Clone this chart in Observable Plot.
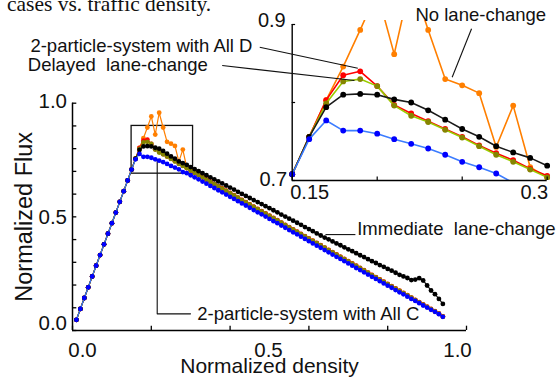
<!DOCTYPE html>
<html><head><meta charset="utf-8">
<script src="https://cdn.jsdelivr.net/npm/d3@7"></script>
<script src="https://cdn.jsdelivr.net/npm/@observablehq/plot@0.6"></script>
<style>
html,body{margin:0;padding:0;background:#fff;}
#wrap{position:relative;width:558px;height:377px;overflow:hidden;background:#fff;}
#wrap svg{position:absolute;left:0;top:0;}
</style></head><body><div id="wrap"></div>
<script>
// ---------- data ----------
const rhoRise = [0.01,0.02,0.03,0.04,0.05,0.06,0.07,0.08,0.09,0.10,0.11,0.12,0.13,0.14];
const fluxRise = [0.047,0.095,0.143,0.190,0.238,0.285,0.332,0.379,0.426,0.472,0.519,0.566,0.613,0.660];
const rhoCong = [0.15,0.16,0.17,0.18,0.19,0.20,0.21,0.22,0.23,0.24,0.25,0.26,0.27,0.28,0.29,0.30,
 0.31,0.32,0.33,0.34,0.35,0.36,0.37,0.38,0.39,0.40,0.41,0.42,0.43,0.44,0.45,0.46,0.47,0.48,0.49,0.50,
 0.51,0.52,0.53,0.54,0.55,0.56,0.57,0.58,0.59,0.60,0.61,0.62,0.63,0.64,0.65,0.66,0.67,0.68,0.69,0.70,
 0.71,0.72,0.73,0.74,0.75,0.76,0.77,0.78,0.79,0.80,0.81,0.82,0.83,0.84,0.85,0.86,0.87,0.88,0.89,0.90,
 0.91,0.92,0.93,0.94];
const noLaneChange = [0.708,0.756,0.803,0.846,0.893,0.942,0.862,0.958,0.893,0.830,0.822,0.812,0.743,0.796,0.717,0.704,
 0.693,0.684,0.673,0.663,0.654,0.643,0.633,0.624,0.613,0.603,0.593,0.583,0.573,0.563,0.553,0.543,0.533,0.523,0.513,0.503,
 0.493,0.483,0.473,0.463,0.453,0.443,0.433,0.423,0.413,0.403,0.393,0.383,0.373,0.363,0.353,0.343,0.333,0.323,0.313,0.303,
 0.293,0.283,0.273,0.263,0.253,0.243,0.233,0.223,0.213,0.203,0.193,0.183,0.173,0.163,0.153,0.143,0.133,0.123,0.113,0.103,
 0.093,0.083,0.073,0.061];
const allD = [0.708,0.756,0.803,0.835,0.840,0.821,0.797,0.786,0.776,0.766,0.756,0.745,0.735,0.726,0.715,0.706,
 0.695,0.685,0.675,0.665,0.655,0.645,0.635,0.625,0.615,0.605,0.595,0.585,0.575,0.565,0.555,0.545,0.535,0.525,0.515,0.505,
 0.495,0.485,0.475,0.465,0.455,0.445,0.435,0.425,0.415,0.405,0.395,0.385,0.375,0.365,0.355,0.345,0.335,0.325,0.315,0.305,
 0.295,0.285,0.275,0.265,0.255,0.245,0.235,0.225,0.215,0.205,0.195,0.185,0.175,0.165,0.155,0.145,0.135,0.125,0.115,0.105,
 0.095,0.085,0.075,0.062];
const delayed = [0.708,0.756,0.799,0.827,0.830,0.821,0.796,0.783,0.775,0.765,0.755,0.744,0.733,0.724,0.714,0.704,
 0.694,0.684,0.674,0.664,0.654,0.644,0.634,0.624,0.614,0.604,0.594,0.584,0.574,0.564,0.554,0.544,0.534,0.524,0.514,0.504,
 0.494,0.484,0.474,0.464,0.454,0.444,0.434,0.424,0.414,0.404,0.394,0.384,0.374,0.364,0.354,0.344,0.334,0.324,0.314,0.304,
 0.294,0.284,0.274,0.264,0.254,0.244,0.234,0.224,0.214,0.204,0.194,0.184,0.174,0.164,0.154,0.144,0.134,0.124,0.114,0.104,
 0.094,0.084,0.074,0.061];
const immediate = [0.708,0.756,0.794,0.810,0.811,0.810,0.804,0.800,0.790,0.778,0.766,0.756,0.744,0.736,0.729,0.719,
 0.710,0.701,0.692,0.683,0.674,0.665,0.656,0.647,0.638,0.629,0.620,0.610,0.601,0.592,0.583,0.574,0.565,0.556,0.547,0.538,
 0.529,0.520,0.510,0.501,0.492,0.483,0.474,0.465,0.455,0.446,0.437,0.427,0.418,0.409,0.401,0.392,0.383,0.375,0.366,0.357,
 0.349,0.340,0.331,0.323,0.314,0.305,0.297,0.288,0.280,0.271,0.263,0.254,0.245,0.238,0.231,0.222,0.224,0.230,0.220,0.198,
 0.176,0.160,0.139,0.117];
const allC = [0.708,0.753,0.777,0.764,0.764,0.760,0.753,0.747,0.741,0.733,0.724,0.717,0.709,0.697,0.692,0.683,
 0.674,0.665,0.655,0.646,0.636,0.627,0.617,0.608,0.598,0.588,0.579,0.569,0.559,0.550,0.540,0.530,0.520,0.511,0.501,0.491,
 0.481,0.472,0.462,0.452,0.442,0.432,0.423,0.413,0.403,0.393,0.383,0.373,0.364,0.354,0.344,0.334,0.324,0.315,0.305,0.295,
 0.285,0.275,0.266,0.256,0.246,0.236,0.227,0.217,0.207,0.197,0.188,0.178,0.168,0.159,0.149,0.139,0.130,0.120,0.110,0.101,
 0.091,0.082,0.072,0.060];

const mainXTicks = [0,0.2,0.4,0.6,0.8,1.0];
const mainYTicks = [0,0.1,0.2,0.3,0.4,0.5,0.6,0.7,0.8,0.9,1.0];
const mainXLabels = [{v:0,t:"0.0"},{v:0.5,t:"0.5"},{v:1,t:"1.0"}];
const mainYLabels = [{v:0,t:"0.0"},{v:0.5,t:"0.5"},{v:1,t:"1.0"}];
const insetXTicks = [0.15,0.2,0.25,0.3];
const insetYTicks = [0.7,0.8,0.9];
const insetXLabels = [{v:0.15,t:"0.15"},{v:0.3,t:"0.3"}];
const insetYLabels = [{v:0.9,t:"0.9"},{v:0.7,t:"0.7"}];
const zoomBox = [{x1:0.15,x2:0.306,y1:0.69,y2:0.90}];

const seriesNames = ["No lane-change","2-particle-system with All D","Delayed  lane-change","Immediate  lane-change","2-particle-system with All C"];
const seriesValues = [noLaneChange, allD, delayed, immediate, allC];
const lineColors = ["#ff7f00","#ff0000","#99cc00","#1a1a1a","#3c7cff"];
const dotColors  = ["#ff7f00","#ff0000","#858500","#000000","#0000ff"];

// annotations (data coordinates of the plot they belong to)
const insetNotes = [
  {text:"2-particle-system with All D", x:-0.004, y:0.8645, x1:0.1309, y1:0.8709, x2:0.1886, y2:0.8440},
  {text:"Delayed\u00a0 lane-change", x:-0.0055, y:0.8401, x1:0.1088, y1:0.8474, x2:0.1866, y2:0.8282},
  {text:"No lane-change", x:0.2225, y:0.9042, x1:0.2555, y1:0.8945, x2:0.2441, y2:0.8324}
];
const immediateNote = [{text:"Immediate\u00a0 lane-change", x:0.7225, y:0.422, x1:0.642, x2:0.718}];
const allCLeader = [{rho:0.215,flux:0.752},{rho:0.215,flux:0.0733},{rho:0.2995,flux:0.0733}];
const allCNote = [{text:"2-particle-system with All C", x:0.3165, y:0.0733}];

// ---------- build ----------
const W = 558, H = 377;
const FONT = "'Liberation Sans', Arial, Helvetica, sans-serif";
const series = seriesNames.map((name, k) => ({
  name,
  line: lineColors[k],
  dot: dotColors[k],
  rows: rhoRise.map((r, i) => ({rho: r, flux: fluxRise[i]}))
        .concat(rhoCong.map((r, i) => ({rho: r, flux: seriesValues[k][i]})))
}));

// main plot geometry
const mL = 72, mR = 92, mT = 102.7, mB = 47;
const fW = W - mL - mR, fH = H - mT - mB;

const mainMarks = [
  Plot.rect(zoomBox, {x1:"x1", x2:"x2", y1:"y1", y2:"y2", fill:"none", stroke:"#111", strokeWidth:1.3}),
  Plot.line(allCLeader, {x:"rho", y:"flux", stroke:"#111", strokeWidth:1.1}),
];
series.forEach(s => {
  mainMarks.push(Plot.line(s.rows, {x:"rho", y:"flux", stroke:s.line, strokeWidth:1.2}));
  mainMarks.push(Plot.dot(s.rows, {x:"rho", y:"flux", r:2.4, fill:s.dot}));
});
mainMarks.push(
  Plot.ruleX([0], {stroke:"#000", strokeWidth:1.5}),
  Plot.ruleY([0], {stroke:"#000", strokeWidth:1.5}),
  Plot.tickX(mainXTicks, {x:d=>d, insetTop:fH-4.3, stroke:"#000", strokeWidth:1.3}),
  Plot.tickY(mainYTicks, {y:d=>d, insetRight:fW-4.3, stroke:"#000", strokeWidth:1.3}),
  Plot.link(immediateNote, {x1:"x1", x2:"x2", y1:"y", y2:"y", stroke:"#111", strokeWidth:1.1}),
  Plot.text(immediateNote, {x:"x", y:"y", text:"text", textAnchor:"start", lineAnchor:"bottom", fontSize:18.5, fill:"#111"}),
  Plot.text(allCNote, {x:"x", y:"y", text:"text", textAnchor:"start", lineAnchor:"middle", fontSize:18.5, fill:"#111"})
);
const xdx = [10, -1, -9];
mainXLabels.forEach((L, i) => mainMarks.push(
  Plot.text([L], {x:"v", text:"t", frameAnchor:"bottom", textAnchor:"middle", lineAnchor:"middle", dy:19.5, dx:xdx[i], fontSize:20.5, fill:"#111"})));
const ydy = [-7, 1, -2];
mainYLabels.forEach((L, i) => mainMarks.push(
  Plot.text([L], {y:"v", text:"t", frameAnchor:"left", textAnchor:"end", lineAnchor:"middle", dx:-5.5, dy:ydy[i], fontSize:20.5, fill:"#111"})));
mainMarks.push(
  Plot.text(["Normalized density"], {text:d=>d, frameAnchor:"bottom", textAnchor:"middle", lineAnchor:"bottom", dy:42, fontSize:21, fill:"#111"}),
  Plot.text(["Normalized Flux"], {text:d=>d, frameAnchor:"left", textAnchor:"middle", lineAnchor:"middle", rotate:-90, dx:-48, fontSize:23.5, fill:"#111"})
);

const mainPlot = Plot.plot({
  width: W, height: H,
  marginLeft: mL, marginRight: mR, marginTop: mT, marginBottom: mB,
  x: {domain:[0,1], axis:null},
  y: {domain:[0,1], axis:null},
  style: {fontFamily: FONT, background:"#fff", overflow:"visible"},
  marks: mainMarks
});

// inset geometry: 0.15 -> px 291.7, 0.30 -> 546.7 ; 0.9 -> py 24, 0.7 -> 180
const iL = 288.3, iR = W - 550.1, iT = 20.1, iB = H - 180;
const ifW = W - iL - iR, ifH = H - iT - iB;
const insetMarks = [];
series.forEach(s => {
  const d = s.rows.filter(p => p.rho >= 0.1499 && p.rho <= 0.3001);
  insetMarks.push(Plot.line(d, {x:"rho", y:"flux", stroke:s.line, strokeWidth:1.6, clip:true}));
  insetMarks.push(Plot.dot(d, {x:"rho", y:"flux", r:2.9, fill:s.dot, clip:true}));
});
insetMarks.push(
  Plot.ruleX([0.15], {y1:0.7, y2:0.9, stroke:"#000", strokeWidth:1.4}),
  Plot.ruleY([0.7], {x1:0.15, x2:0.3, stroke:"#000", strokeWidth:1.4}),
  Plot.tickX(insetXTicks, {x:d=>d, insetTop:ifH-3.4, stroke:"#000", strokeWidth:1.2}),
  Plot.tickY(insetYTicks, {y:d=>d, insetLeft:3.4, insetRight:ifW-3.4-3.4, stroke:"#000", strokeWidth:1.2}),
  Plot.link(insetNotes, {x1:"x1", y1:"y1", x2:"x2", y2:"y2", stroke:"#111", strokeWidth:1.1}),
  Plot.text(insetNotes, {x:"x", y:"y", text:"text", textAnchor:"start", lineAnchor:"bottom", fontSize:18.5, fill:"#111"}),
  Plot.text([insetXLabels[0]], {x:"v", y:()=>0.7, text:"t", textAnchor:"start", lineAnchor:"middle", dx:-2, dy:12.5, fontSize:20, fill:"#111"}),
  Plot.text([insetXLabels[1]], {x:"v", y:()=>0.7, text:"t", textAnchor:"end", lineAnchor:"middle", dx:1, dy:12.5, fontSize:20, fill:"#111"}),
  Plot.text([insetYLabels[0]], {x:()=>0.15, y:"v", text:"t", textAnchor:"end", lineAnchor:"middle", dx:-6.5, dy:-4, fontSize:20, fill:"#111"}),
  Plot.text([insetYLabels[1]], {x:()=>0.15, y:"v", text:"t", textAnchor:"end", lineAnchor:"middle", dx:-5, dy:-1, fontSize:20, fill:"#111"})
);
const insetPlot = Plot.plot({
  width: W, height: H,
  marginLeft: iL, marginRight: iR, marginTop: iT, marginBottom: iB,
  x: {domain:[0.148,0.302], axis:null},
  y: {domain:[0.7,0.905], axis:null},
  style: {fontFamily: FONT, background:"transparent", overflow:"visible"},
  marks: insetMarks
});

// title fragment at the very top (cut off in the original)
d3.select(mainPlot).append("text")
  .attr("x", 7).attr("y", 11)
  .attr("text-anchor", "start")
  .attr("font-family", "'Liberation Serif', 'Times New Roman', serif")
  .attr("font-size", 21.5).attr("fill", "#111")
  .text("cases vs. traffic density.");

const wrap = document.getElementById("wrap");
wrap.appendChild(mainPlot);
wrap.appendChild(insetPlot);
</script></body></html>
